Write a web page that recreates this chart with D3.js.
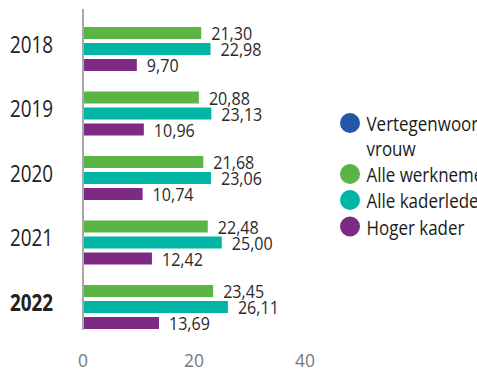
<!DOCTYPE html>
<html>
<head>
<meta charset="utf-8">
<script src="https://cdn.jsdelivr.net/npm/d3@7"></script>
<style>
  html, body { margin: 0; padding: 0; background: #fff; }
  svg { display: block; font-family: "Open Sans", "Noto Sans", sans-serif; }
</style>
</head>
<body>
<svg id="chart" width="477" height="371"></svg>
<script>
// Years and series values (percentages)
const years = ["2018", "2019", "2020", "2021", "2022"];
const seriesNames = ["Alle werknemers", "Alle kaderleden", "Hoger kader"];
const alleWerknemers = [21.30, 20.88, 21.68, 22.48, 23.45];
const alleKaderleden = [22.98, 23.13, 23.06, 25.00, 26.11];
const hogerKader = [9.70, 10.96, 10.74, 12.42, 13.69];
const xTicks = [0, 20, 40];
const legendItems = [
  { lines: ["Vertegenwoordiging", "vrouw"], color: "#2557a7" },
  { lines: ["Alle werknemers"], color: "#5bb446" },
  { lines: ["Alle kaderleden"], color: "#00b5a3" },
  { lines: ["Hoger kader"], color: "#7d2a84" }
];

const seriesValues = [alleWerknemers, alleKaderleden, hogerKader];
const seriesColors = ["#5bb446", "#00b5a3", "#7d2a84"];

const svg = d3.select("#chart");

const x = d3.scaleLinear().domain([0, 40]).range([83, 305]);
const y0 = d3.scaleBand().domain(years).range([25, 347.5]).padding(0);
const y1 = d3.scaleBand().domain(seriesNames).range([0, 48])
  .paddingInner(0.25).paddingOuter(0.125);

// Narrow type: horizontally condensed text placed at (px, py)
const condensed = (sel, px, py, sx) =>
  sel.attr("transform", `translate(${px},${py}) scale(${sx},1)`);

// Axis line on the left
svg.append("line")
  .attr("x1", x(0)).attr("x2", x(0))
  .attr("y1", 9).attr("y2", 330)
  .attr("stroke", "#a8a8a8").attr("stroke-width", 2);

// Year labels
svg.append("g").selectAll("text").data(years).join("text")
  .each(function (d) { condensed(d3.select(this), 53, y0(d) + 27.5, 0.82); })
  .attr("text-anchor", "end")
  .attr("font-size", 23)
  .attr("font-weight", (d, i) => i === years.length - 1 ? 700 : 400)
  .attr("fill", "#222")
  .text(d => d);

// Bars and value labels
const groups = svg.append("g").selectAll("g").data(years).join("g")
  .attr("transform", d => `translate(0,${y0(d)})`);

const fmt = v => v.toFixed(2).replace(".", ",");

groups.each(function (year, yi) {
  const g = d3.select(this);
  const rows = seriesNames.map((s, si) => ({ s, v: seriesValues[si][yi], c: seriesColors[si] }));
  g.selectAll("rect").data(rows).join("rect")
    .attr("x", x(0) + 1)
    .attr("y", d => y1(d.s))
    .attr("width", d => x(d.v) - x(0) - 1)
    .attr("height", y1.bandwidth())
    .attr("fill", d => d.c);
  g.selectAll("text").data(rows).join("text")
    .each(function (d) {
      condensed(d3.select(this), x(d.v) + 10, y1(d.s) + y1.bandwidth() / 2 + 7, 0.92);
    })
    .attr("font-size", 17.5)
    .attr("fill", "#2a2a2a")
    .text(d => fmt(d.v));
});

// X tick labels
svg.append("g").selectAll("text").data(xTicks).join("text")
  .attr("x", d => x(d))
  .attr("y", 367)
  .attr("text-anchor", "middle")
  .attr("font-size", 17.5)
  .attr("fill", "#777")
  .text(d => d);

// Legend
const legendRows = [123, 174, 200, 226.5];
const legend = svg.append("g");
legendItems.forEach((item, i) => {
  const cy = legendRows[i];
  legend.append("circle")
    .attr("cx", 350).attr("cy", cy).attr("r", 10)
    .attr("fill", item.color);
  const t = legend.append("text")
    .attr("font-size", 19.5)
    .attr("fill", "#1a1a1a");
  condensed(t, 366.5, cy + 8, 0.87);
  item.lines.forEach((ln, li) => {
    t.append("tspan").attr("x", 0).attr("dy", li === 0 ? 0 : 25).text(ln);
  });
});
</script>
</body>
</html>
